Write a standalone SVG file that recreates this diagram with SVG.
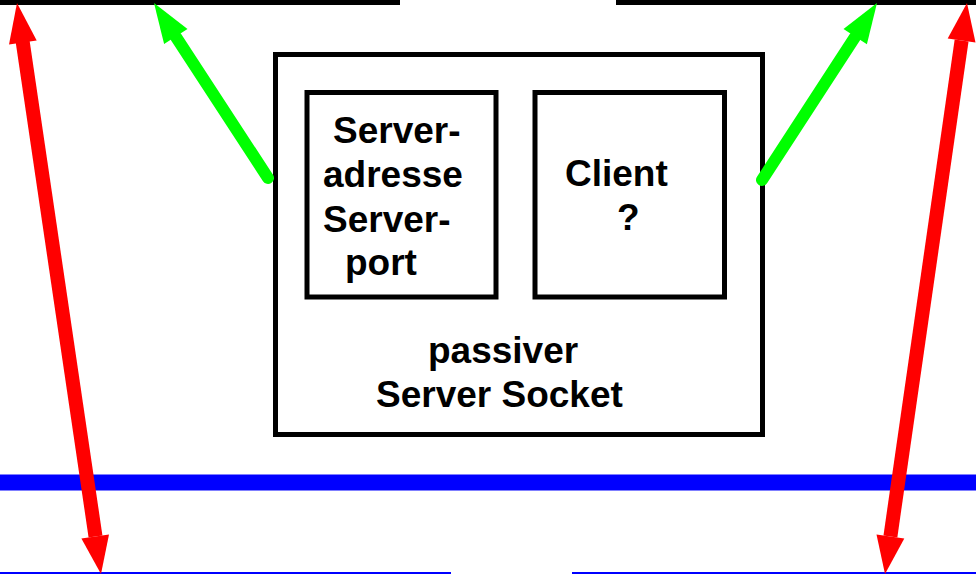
<svg xmlns="http://www.w3.org/2000/svg" width="976" height="574" viewBox="0 0 976 574">
<style>
.box{fill:#fff;stroke:#000;stroke-width:5}
.t{font-family:"Liberation Sans",Arial,sans-serif;font-weight:bold;font-size:37px;fill:#000}
.g{stroke:#00ff00;stroke-width:12;stroke-linecap:round;fill:none}
.gh{fill:#00ff00}
.r{stroke:#ff0000;stroke-width:14;fill:none}
.rh{fill:#ff0000}
</style>
<rect width="976" height="574" fill="#fff"/>
<g id="top-left-bar"><rect x="0" y="0" width="400" height="5" fill="#000"/></g>
<g id="top-right-bar"><rect x="616" y="0" width="360" height="5" fill="#000"/></g>
<g id="network-line"><rect x="0" y="474.5" width="976" height="16" fill="#0000ff"/></g>
<g id="bottom-left-line"><rect x="0" y="572" width="451" height="2" fill="#0000ff"/></g>
<g id="bottom-right-line"><rect x="572" y="572" width="404" height="2" fill="#0000ff"/></g>
<g id="server-socket">
<rect class="box" x="275.5" y="54.5" width="487" height="380"/>
<text class="t" x="428" y="363">passiver</text>
<text class="t" x="376" y="407">Server Socket</text>
</g>
<g id="server-address">
<rect class="box" x="307" y="92.5" width="189" height="204.5"/>
<text class="t" x="333" y="143">Server-</text>
<text class="t" x="323" y="187">adresse</text>
<text class="t" x="323" y="232">Server-</text>
<text class="t" x="345" y="275">port</text>
</g>
<g id="client">
<rect class="box" x="535" y="92.5" width="189.5" height="204.5"/>
<text class="t" x="565" y="186">Client</text>
<text class="t" x="617" y="230">?</text>
</g>
<g id="connectors">
<line class="g" x1="268" y1="178" x2="176" y2="37"/>
<polygon class="gh" points="154,3 187.5,28.9 164.1,44.1"/>
<line class="g" x1="762" y1="180" x2="855" y2="37"/>
<polygon class="gh" points="877,3 866.9,44.2 843.5,29"/>
<line class="r" x1="22.5" y1="40.6" x2="95.5" y2="536.4"/>
<polygon class="rh" points="17,3 36.7,40.6 9,44.6"/>
<polygon class="rh" points="101,574 109,534.4 81.4,538.4"/>
<line class="r" x1="961.6" y1="40.6" x2="890.4" y2="536.4"/>
<polygon class="rh" points="967,3 975.5,42.6 947.7,38.6"/>
<polygon class="rh" points="885,574 904.3,538.4 876.5,534.4"/>
</g>
</svg>
